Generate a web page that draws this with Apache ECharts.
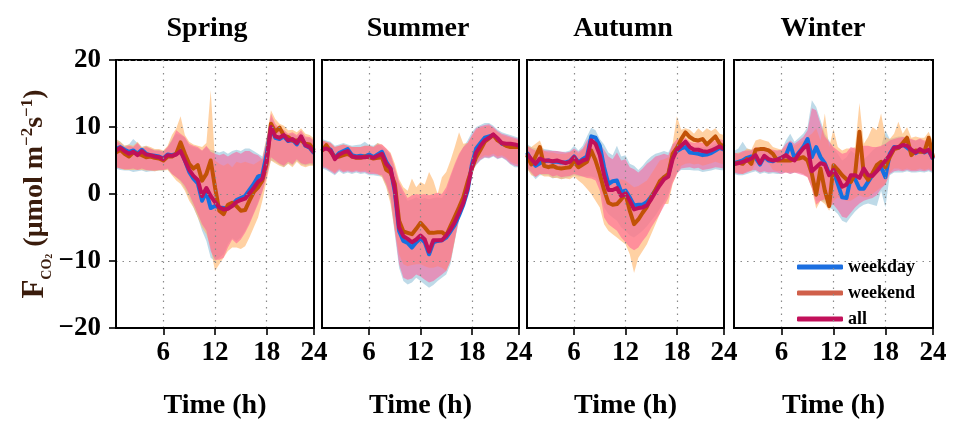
<!DOCTYPE html>
<html><head><meta charset="utf-8">
<script src="https://cdn.jsdelivr.net/npm/echarts@6/dist/echarts.min.js"></script>
<style>html,body{margin:0;padding:0;background:#fff}#c{width:954px;height:425px}</style>
</head><body><div id="c"></div>
<script>
// ---- categories / ticks ----
const hours = [0.5,1,1.5,2,2.5,3,3.5,4,4.5,5,5.5,6,6.5,7,7.5,8,8.5,9,9.5,10,10.5,11,11.5,12,12.5,13,13.5,14,14.5,15,15.5,16,16.5,17,17.5,18,18.5,19,19.5,20,20.5,21,21.5,22,22.5,23,23.5];
const tickHours = [6,12,18,23.5];
const tickLabels = ['6','12','18','24'];
const gridHours = [6,12,18];
const seasons = ['Spring','Summer','Autumn','Winter'];
const seriesNames = ['weekday','weekend','all'];

// ---- Spring ----
const springWeekday = [6.7,7.0,6.6,6.3,6.5,6.0,6.6,6.0,5.8,5.7,5.6,5.3,5.9,5.8,6.0,6.5,5.0,3.3,2.3,1.6,-1.0,0.3,-2.1,-1.8,-2.0,-2.1,-2.1,-1.6,-0.9,-0.6,-0.3,0.6,1.5,2.6,2.9,6.0,9.9,8.4,8.2,8.6,7.9,8.1,7.4,8.5,7.2,6.9,6.1];
const springWeekend = [6.2,6.6,6.0,5.6,6.2,6.0,5.8,5.5,5.6,5.4,5.3,5.0,5.6,5.6,6.0,7.7,6.0,4.5,3.8,4.3,2.0,3.0,5.0,1.0,-2.5,-3.0,-1.6,-1.3,-1.8,-2.5,-2.4,-1.0,0.3,1.0,2.0,4.5,10.5,9.3,9.9,8.7,8.5,8.0,8.0,8.0,7.5,7.4,6.5];
const springAll = [6.5,6.9,6.4,6.0,6.3,5.8,6.4,5.9,5.8,5.6,5.5,5.2,5.8,5.7,5.9,6.4,5.0,3.6,2.7,2.1,-0.3,0.9,-0.3,-1.2,-2.0,-2.3,-2.2,-1.8,-1.2,-0.9,-0.7,0.1,0.9,1.8,2.3,5.0,10.0,8.6,8.4,8.8,8.0,8.2,7.6,8.6,7.3,7.0,6.2];
const springWeekdayLo = [3.8,3.6,3.5,3.5,3.3,3.4,3.5,3.3,3.4,3.4,3.5,3.5,3.7,3.0,2.5,1.8,0.8,-0.5,-2.0,-3.5,-5.5,-7.0,-9.5,-10.0,-9.5,-9.0,-7.5,-6.6,-7.0,-6.5,-5.5,-4.2,-2.8,-1.2,0.5,2.8,5.0,4.8,4.4,4.0,4.6,4.2,5.0,4.4,4.2,4.4,4.3];
const springWeekdayHi = [8.2,7.8,7.2,7.4,8.2,7.6,7.0,7.2,6.8,6.6,6.6,6.4,7.0,8.2,9.0,8.8,8.4,7.2,7.0,6.8,6.4,7.0,6.6,6.4,6.2,6.4,6.0,6.4,6.6,6.4,6.8,6.8,6.4,6.0,5.6,8.4,11.5,10.2,9.6,9.4,8.8,9.0,8.6,9.2,8.4,8.4,7.8];
const springWeekendLo = [4.0,3.8,3.6,3.6,3.6,3.6,3.6,3.5,3.5,3.4,3.5,3.5,3.6,2.8,2.0,1.5,0.5,-1.0,-2.0,-3.5,-5.0,-6.0,-8.0,-11.5,-10.5,-9.5,-8.5,-8.0,-8.0,-8.2,-7.8,-6.5,-5.0,-3.5,-1.0,2.0,5.0,4.6,4.2,4.0,4.5,4.0,4.8,4.2,4.0,4.2,4.2];
const springWeekendHi = [8.2,7.8,7.2,7.4,7.2,7.8,7.0,7.2,7.0,6.7,6.7,6.5,7.2,8.8,9.8,11.6,8.8,7.8,7.4,7.2,7.0,7.6,15.5,5.0,4.5,4.2,4.6,4.0,4.8,4.6,4.8,4.6,4.4,4.8,5.2,8.5,12.5,11.2,10.5,10.2,9.5,9.6,9.2,9.8,9.0,8.8,8.3];
const springAllLo = [4.0,3.8,3.7,3.7,3.8,3.6,3.8,3.6,3.5,3.5,3.6,3.6,3.8,3.0,2.5,2.0,1.2,0.0,-1.5,-3.0,-4.5,-5.5,-8.5,-9.8,-9.8,-9.5,-8.0,-6.8,-7.4,-6.8,-5.8,-4.5,-3.0,-1.5,0.3,2.5,5.5,5.0,4.5,4.2,4.8,4.4,5.2,4.6,4.4,4.6,4.5];
const springAllHi = [8.0,7.5,7.0,7.2,7.0,7.6,6.8,7.0,6.8,6.5,6.5,6.3,7.0,8.0,9.5,9.0,8.5,7.5,7.2,7.0,6.5,7.2,6.3,6.0,5.8,6.0,5.6,6.0,6.3,6.0,6.4,6.4,6.0,5.8,5.2,8.0,12.0,10.5,9.8,9.6,9.0,9.2,8.8,9.5,8.6,8.5,8.0];

// ---- Summer ----
const summerWeekday = [6.8,7.0,6.6,5.4,6.1,6.4,6.7,5.8,5.6,5.7,5.6,5.9,5.5,5.9,6.3,4.8,3.8,0.3,-5.5,-7.0,-7.3,-8.0,-7.2,-6.6,-7.2,-9.0,-7.2,-7.0,-6.9,-6.5,-5.6,-4.6,-3.2,-1.6,0.5,4.4,6.8,7.6,8.4,8.6,8.8,8.2,7.5,7.3,7.3,7.2,7.0];
const summerWeekend = [6.4,7.3,6.3,5.5,5.6,5.8,6.0,5.6,5.4,5.4,5.6,5.5,5.3,5.4,5.5,3.6,3.2,1.5,-4.0,-5.6,-5.8,-6.0,-5.2,-4.3,-5.0,-5.8,-5.8,-5.7,-5.7,-6.2,-4.8,-3.4,-2.0,-0.5,1.8,3.8,5.5,6.6,7.8,8.3,8.8,8.0,7.6,7.2,7.0,7.0,7.0];
const summerAll = [6.6,6.8,6.5,5.2,5.9,6.2,6.4,5.6,5.5,5.5,5.5,5.6,5.4,5.7,6.0,4.5,3.8,0.8,-5.0,-6.3,-6.7,-7.2,-6.8,-6.2,-6.8,-8.6,-6.9,-6.9,-6.9,-6.2,-5.3,-4.2,-2.8,-1.3,0.9,4.0,6.2,7.2,8.0,8.4,8.9,8.3,7.6,7.5,7.5,7.4,7.2];
const summerWeekdayLo = [3.8,3.6,3.2,2.8,3.4,3.0,3.2,3.0,3.2,3.0,3.1,2.8,2.8,2.7,2.6,1.2,-1.0,-6.0,-11.0,-13.0,-13.5,-13.2,-12.5,-13.0,-13.5,-14.0,-13.6,-13.0,-12.5,-12.0,-10.5,-7.0,-4.0,-1.2,1.3,3.3,4.3,5.0,5.4,5.3,5.6,5.2,5.4,5.0,4.4,4.0,4.0];
const summerWeekdayHi = [8.2,8.0,7.8,7.2,7.4,7.6,7.4,7.2,7.3,7.4,7.8,7.3,7.2,7.6,7.0,6.5,5.8,3.5,1.5,0.0,-1.0,-0.8,-0.5,-0.8,-0.6,-0.8,-0.6,-0.5,-0.6,0.5,2.5,4.2,5.8,7.0,8.0,9.2,10.0,10.3,10.6,10.6,10.2,9.6,9.2,9.0,8.8,8.6,8.4];
const summerWeekendLo = [4.2,4.0,3.6,3.2,3.8,3.4,3.6,3.4,3.6,3.4,3.5,3.2,3.2,3.0,2.5,1.0,-1.5,-5.5,-9.0,-10.5,-10.8,-10.6,-10.5,-10.5,-10.8,-11.0,-11.0,-10.8,-11.0,-11.5,-10.0,-7.0,-3.0,-0.5,2.0,3.8,4.8,5.4,5.8,5.7,6.0,5.6,5.8,5.4,4.8,4.5,4.4];
const summerWeekendHi = [8.0,7.8,7.6,7.0,7.2,7.4,7.2,7.0,7.0,7.0,7.2,7.2,7.0,7.6,7.4,6.8,6.2,4.5,2.2,1.0,0.5,2.3,1.0,1.8,1.4,3.3,2.0,0.0,2.5,3.3,5.0,7.0,9.2,7.5,7.6,8.6,9.6,9.9,10.1,10.2,9.8,9.2,8.8,8.6,8.4,8.2,8.0];
const summerAllLo = [4.0,3.8,3.4,3.0,3.6,3.2,3.4,3.2,3.4,3.2,3.3,3.0,3.0,2.9,2.8,1.5,-0.5,-5.5,-10.5,-12.5,-12.8,-12.6,-12.0,-12.3,-12.8,-13.2,-13.0,-12.5,-12.0,-11.5,-10.0,-6.8,-3.8,-1.1,1.4,3.4,4.4,5.1,5.5,5.4,5.7,5.3,5.5,5.1,4.5,4.2,4.1];
const summerAllHi = [8.0,7.8,7.6,7.0,7.2,7.4,7.2,7.0,7.0,7.0,7.2,7.2,7.0,7.4,7.4,6.8,6.0,4.0,1.8,0.5,-0.6,-0.2,0.0,-0.1,0.0,-0.2,0.0,0.2,0.0,1.0,2.8,4.5,6.0,7.0,7.6,8.8,9.8,10.1,10.3,10.4,10.0,9.4,9.0,8.8,8.6,8.4,8.2];

// ---- Autumn ----
const autumnWeekday = [6.2,5.0,4.2,4.6,4.9,5.0,4.8,4.8,4.7,4.7,4.9,5.6,4.7,5.2,5.6,8.6,8.4,7.2,4.0,1.5,1.9,2.0,0.3,0.5,-0.5,-1.7,-1.6,-1.6,-1.2,-0.4,0.6,1.5,2.5,2.8,5.6,6.4,6.8,7.0,6.2,6.1,6.0,5.8,5.9,6.1,6.5,6.9,6.6];
const autumnWeekend = [5.8,4.4,5.6,7.0,4.2,4.0,4.2,3.9,3.8,3.9,4.0,4.8,4.0,4.4,4.8,6.5,5.0,3.0,0.6,-1.3,-1.6,-1.5,-0.8,0.0,-2.5,-4.5,-3.8,-2.8,-1.9,-0.5,0.6,1.9,2.5,3.0,6.0,6.9,8.2,9.2,8.5,8.1,8.0,8.2,7.4,8.0,8.6,7.5,7.0];
const autumnAll = [6.0,5.2,4.5,5.3,5.0,5.0,4.9,5.0,4.8,4.6,4.8,5.5,4.6,5.0,5.2,8.0,7.5,5.8,2.8,0.6,0.6,0.9,-0.3,0.1,-1.0,-2.3,-2.1,-2.0,-1.7,-0.8,0.3,1.3,2.2,2.6,5.2,6.6,7.2,7.8,7.0,6.6,6.6,6.4,6.3,6.5,6.8,7.1,6.7];
const autumnWeekdayLo = [3.8,3.0,2.2,2.8,2.8,2.8,2.3,2.5,2.2,2.4,2.5,2.8,2.6,2.6,2.6,2.6,2.4,1.5,-2.0,-3.0,-3.5,-4.0,-5.0,-5.5,-6.2,-6.5,-6.0,-5.5,-4.8,-4.0,-3.2,-2.2,-1.2,0.0,2.0,3.2,3.6,3.6,3.6,3.5,3.5,3.3,3.4,3.5,3.7,3.6,3.5];
const autumnWeekdayHi = [7.5,7.0,6.8,7.0,6.7,6.6,6.5,6.4,6.3,6.3,6.5,7.2,6.5,7.2,8.6,9.9,9.5,8.2,7.4,6.2,5.8,7.2,5.6,5.8,4.5,4.2,3.6,4.2,5.0,5.6,6.0,6.2,6.4,6.2,7.5,7.6,7.5,7.6,7.2,7.0,7.1,7.0,7.1,7.2,7.5,7.6,7.5];
const autumnWeekendLo = [3.8,2.8,2.6,3.0,2.6,2.6,2.4,2.4,2.2,2.3,2.2,2.6,2.0,1.5,0.8,0.0,-1.0,-2.0,-4.5,-5.5,-6.0,-6.5,-7.0,-7.5,-9.0,-11.8,-9.5,-8.5,-7.5,-6.0,-4.5,-3.0,-1.5,-1.5,1.5,3.0,4.2,4.5,4.6,4.4,4.5,4.2,4.4,4.6,4.8,4.6,4.4];
const autumnWeekendHi = [7.2,7.0,7.5,8.0,6.4,6.2,6.2,6.0,6.0,6.0,6.2,6.6,6.0,6.6,7.5,8.0,7.5,6.0,4.0,2.5,2.0,2.0,2.2,2.0,1.5,1.0,1.2,1.6,2.0,3.0,4.0,5.0,5.2,5.5,7.5,11.6,9.6,9.8,9.6,9.0,9.8,9.2,9.8,9.4,9.8,9.0,8.8];
const autumnAllLo = [4.0,3.2,2.5,3.0,3.0,3.0,2.6,2.8,2.5,2.6,2.7,3.0,2.8,2.6,2.4,2.3,2.0,0.5,-3.5,-4.5,-5.0,-5.5,-6.5,-7.2,-8.0,-8.4,-8.0,-7.0,-6.2,-5.0,-4.0,-3.0,-1.8,-0.6,1.6,3.0,3.8,3.9,4.0,3.8,3.9,3.6,3.7,3.8,4.0,3.9,3.8];
const autumnAllHi = [7.2,6.8,6.5,6.8,6.5,6.5,6.4,6.4,6.3,6.2,6.3,6.8,6.3,6.8,8.0,8.6,8.3,7.5,6.6,5.6,5.2,6.2,5.0,5.2,4.0,3.7,3.2,3.8,4.5,5.0,5.6,5.8,6.0,5.8,7.4,8.2,8.0,8.4,7.8,7.6,7.8,7.6,7.7,7.8,8.0,8.2,8.0];

// ---- Winter ----
const winterWeekday = [4.6,4.8,5.0,5.4,5.6,5.4,4.4,5.6,5.0,4.9,5.2,5.4,5.8,7.4,5.3,6.2,7.0,8.2,5.5,7.0,5.5,4.6,3.0,3.4,1.5,-0.5,-0.6,2.5,2.2,0.8,0.8,1.8,2.8,3.5,4.0,2.5,6.0,7.0,6.9,7.4,6.9,6.4,6.1,6.5,6.2,6.5,5.2];
const winterWeekend = [4.4,4.7,4.5,5.2,4.5,6.6,6.7,6.7,6.5,6.0,5.0,5.0,5.0,5.0,5.2,5.3,5.5,5.0,3.0,-0.1,3.8,0.5,-1.8,4.3,3.6,2.8,2.2,1.8,3.0,9.3,3.0,2.1,3.1,4.3,4.8,4.0,5.5,6.7,6.9,7.6,8.4,5.8,6.5,6.3,6.3,8.4,5.5];
const winterAll = [4.5,4.6,4.8,5.0,5.3,5.8,4.6,5.7,5.2,5.0,5.1,5.4,5.8,5.3,5.0,6.0,6.8,7.3,3.4,4.0,4.6,4.4,2.8,3.6,2.5,1.1,1.4,2.8,2.8,2.4,3.8,2.8,2.7,3.4,4.2,5.0,5.8,6.9,7.0,7.3,7.2,6.6,6.2,6.7,6.3,6.6,5.3];
const winterWeekdayLo = [3.0,2.8,2.8,3.0,3.2,3.4,3.0,3.2,3.0,3.1,3.0,3.0,3.3,3.0,3.2,3.2,3.0,2.6,1.0,-1.0,-1.0,-1.2,-2.0,-2.4,-3.0,-4.0,-4.3,-3.4,-2.6,-2.0,-1.6,-1.4,-1.6,-1.8,0.5,-2.0,2.8,3.2,3.2,3.2,3.4,3.2,3.2,3.3,3.2,3.4,3.1];
const winterWeekdayHi = [6.4,6.8,7.8,6.8,6.6,6.8,6.6,6.8,6.6,6.5,6.5,6.6,8.0,9.0,7.8,8.4,9.0,10.0,14.0,13.0,11.0,9.0,8.0,6.8,6.0,5.0,5.5,6.5,6.0,5.5,5.2,5.8,6.5,7.0,7.0,9.5,8.2,8.4,8.6,8.6,8.3,8.1,8.0,8.2,7.8,7.8,7.3];
const winterWeekendLo = [3.2,3.2,3.0,3.4,3.4,4.6,4.8,4.8,4.6,3.6,3.4,3.4,3.2,3.2,3.2,3.2,3.0,2.5,0.8,-2.2,-1.0,-1.5,-2.5,-1.0,-0.5,-0.8,-1.0,-1.0,-0.6,-0.2,-0.5,-0.5,0.0,0.5,1.0,1.5,3.2,3.8,3.8,3.6,3.8,3.6,3.6,3.8,3.6,3.8,3.4];
const winterWeekendHi = [6.0,6.2,6.2,6.8,6.6,8.0,8.2,8.0,7.8,7.0,6.8,6.6,7.0,7.4,7.2,7.6,8.0,8.6,9.0,9.8,8.0,12.0,7.0,9.7,7.0,6.5,6.8,6.8,7.0,13.6,7.5,8.5,10.0,9.5,12.0,8.5,8.2,9.0,10.8,9.0,10.0,8.4,8.6,8.4,8.4,9.3,7.8];
const winterAllLo = [3.2,3.0,3.0,3.2,3.5,3.6,3.2,3.4,3.2,3.3,3.2,3.0,3.2,3.0,3.2,3.0,2.8,2.5,0.9,-1.6,-1.0,-0.8,-1.6,-1.6,-2.4,-3.4,-3.6,-2.8,-2.0,-1.4,-1.0,-0.8,-0.6,-0.2,0.8,1.4,3.0,3.4,3.5,3.4,3.6,3.4,3.4,3.5,3.4,3.6,3.3];
const winterAllHi = [6.2,6.0,6.4,6.5,6.5,7.0,6.8,7.0,6.8,6.6,6.5,6.6,7.5,8.0,7.5,8.0,8.5,9.5,12.8,12.5,10.5,8.6,7.8,7.0,6.5,6.0,6.2,7.0,6.8,7.0,7.2,7.2,7.0,7.0,7.2,7.5,8.0,8.2,8.4,8.5,8.4,8.2,8.0,8.3,8.0,8.0,7.5];

// ---- assembly ----
const panels = [
  {lines:[springWeekday, springWeekend, springAll], lo:[springWeekdayLo, springWeekendLo, springAllLo], hi:[springWeekdayHi, springWeekendHi, springAllHi]},
  {lines:[summerWeekday, summerWeekend, summerAll], lo:[summerWeekdayLo, summerWeekendLo, summerAllLo], hi:[summerWeekdayHi, summerWeekendHi, summerAllHi]},
  {lines:[autumnWeekday, autumnWeekend, autumnAll], lo:[autumnWeekdayLo, autumnWeekendLo, autumnAllLo], hi:[autumnWeekdayHi, autumnWeekendHi, autumnAllHi]},
  {lines:[winterWeekday, winterWeekend, winterAll], lo:[winterWeekdayLo, winterWeekendLo, winterAllLo], hi:[winterWeekdayHi, winterWeekendHi, winterAllHi]}
];

const FONT = 'Liberation Serif';
const lineColors = ['#1570e0', '#c25206', '#c0105a'];
const legendColors = ['#1c6fe0', '#d0604a', '#c2105a'];
const bandColors = ['#a8cde0', '#ffb266', '#ff5a96'];
const bandOpacity = [0.75, 0.6, 0.55];

const gridLeft = [116, 322, 527, 734];
const gridWidth = [198, 197, 197, 199];
const titleCenter = [207, 418, 623, 823];
const gridTop = 60, gridHeight = 273;

const tickIdx = tickHours.map(h => hours.indexOf(h));
const gridIdx = gridHours.map(h => hours.indexOf(h));

const grids = [], xAxes = [], yAxes = [], series = [], titles = [];
const dotted = {color:'#8a8a8a', width:1.2, type:[1.5, 5]};

for (let p = 0; p < 4; p++) {
  grids.push({left:gridLeft[p], top:gridTop, width:gridWidth[p], height:gridHeight,
    show:true, borderColor:'#000', borderWidth:2, backgroundColor:'transparent', z:10});
  xAxes.push({type:'category', gridIndex:p, data:hours, boundaryGap:false, z:10, position:'bottom',
    axisLine:{show:true, onZero:false, lineStyle:{color:'#000', width:2}},
    axisTick:{show:true, length:7, lineStyle:{color:'#000', width:1.6}, interval:(i)=>tickIdx.includes(i)},
    axisLabel:{show:true, interval:(i)=>tickIdx.includes(i), margin:12,
      formatter:(v)=>{const k = tickHours.indexOf(Number(v)); return k>=0 ? tickLabels[k] : '';},
      fontFamily:FONT, fontWeight:'bold', fontSize:27, color:'#000'},
    splitLine:{show:true, interval:(i)=>gridIdx.includes(i), lineStyle:dotted},
    name:'Time (h)', nameLocation:'middle', nameGap:64,
    nameTextStyle:{fontFamily:FONT, fontWeight:'bold', fontSize:28, color:'#000'}
  });
  const y = {type:'value', gridIndex:p, min:-20, max:20, interval:10, z:10, position:'left',
    axisLine:{show:true, onZero:false, lineStyle:{color:'#000', width:2}},
    axisTick:{show:p===0, length:7, lineStyle:{color:'#000', width:1.6}},
    axisLabel:{show:p===0, margin:15, fontFamily:FONT, fontWeight:'bold', fontSize:27, color:'#000',
      formatter:(v)=> v<0 ? '\u2212'+Math.abs(v) : String(v)},
    splitLine:{show:true, lineStyle:dotted}
  };
  if (p === 0) {
    y.name = '{f|F}{sub|CO}{sub2|2}{m| (\u03bcmol m}{sup|\u22122}{m|s}{sup|\u22121}{m|)}';
    y.nameLocation = 'middle';
    y.nameGap = 60;
    y.nameRotate = 90;
    y.nameTextStyle = {color:'#3a1c0c', fontFamily:FONT, fontWeight:'bold', lineHeight:40,
      rich:{
        f:{fontFamily:FONT, fontWeight:'bold', fontSize:31, color:'#3a1c0c', verticalAlign:'middle', lineHeight:40},
        sub:{fontFamily:FONT, fontWeight:'bold', fontSize:14, color:'#3a1c0c', verticalAlign:'bottom', lineHeight:40},
        sub2:{fontFamily:FONT, fontWeight:'bold', fontSize:10, color:'#3a1c0c', verticalAlign:'bottom', lineHeight:38},
        m:{fontFamily:FONT, fontWeight:'bold', fontSize:28, color:'#3a1c0c', verticalAlign:'middle', lineHeight:40},
        sup:{fontFamily:FONT, fontWeight:'bold', fontSize:17, color:'#3a1c0c', verticalAlign:'middle', lineHeight:40, padding:[0,0,14,0]}
      }};
  }
  yAxes.push(y);

  titles.push({text:seasons[p], left:titleCenter[p], top:15, textAlign:'center', padding:0,
    textStyle:{fontFamily:FONT, fontWeight:'bold', fontSize:28, color:'#000'}});

  const pan = panels[p];
  for (let k = 0; k < 3; k++) {
    const lo = pan.lo[k], hi = pan.hi[k];
    const st = 'band' + p + '_' + k;
    series.push({type:'line', xAxisIndex:p, yAxisIndex:p, data:lo, stack:st, stackStrategy:'all',
      symbol:'none', lineStyle:{opacity:0, width:0}, silent:true, z:1, animation:false});
    series.push({type:'line', xAxisIndex:p, yAxisIndex:p, data:hi.map((v,i)=>+(v-lo[i]).toFixed(3)), stack:st, stackStrategy:'all',
      symbol:'none', lineStyle:{opacity:0, width:0}, areaStyle:{color:bandColors[k], opacity:bandOpacity[k]},
      silent:true, z:1, animation:false});
  }
  for (let k = 0; k < 3; k++) {
    series.push({type:'line', name:seriesNames[k], xAxisIndex:p, yAxisIndex:p, data:pan.lines[k],
      symbol:'none', lineStyle:{color:lineColors[k], width:4, join:'round'}, itemStyle:{color:lineColors[k]},
      z:3, animation:false, silent:true});
  }
}

const chart = echarts.init(document.getElementById('c'), null, {renderer:'canvas'});
chart.setOption({
  animation:false,
  backgroundColor:'#fff',
  title:titles,
  grid:grids, xAxis:xAxes, yAxis:yAxes, series:series,
  legend:{orient:'vertical', left:792, top:252, itemWidth:46, itemHeight:5, itemGap:6, icon:'roundRect',
    selectedMode:false,
    textStyle:{fontFamily:FONT, fontWeight:'bold', fontSize:18, color:'#000', lineHeight:20},
    data:seriesNames.map((n,k)=>({name:n, itemStyle:{color:legendColors[k]}}))}
});
</script></body></html>
